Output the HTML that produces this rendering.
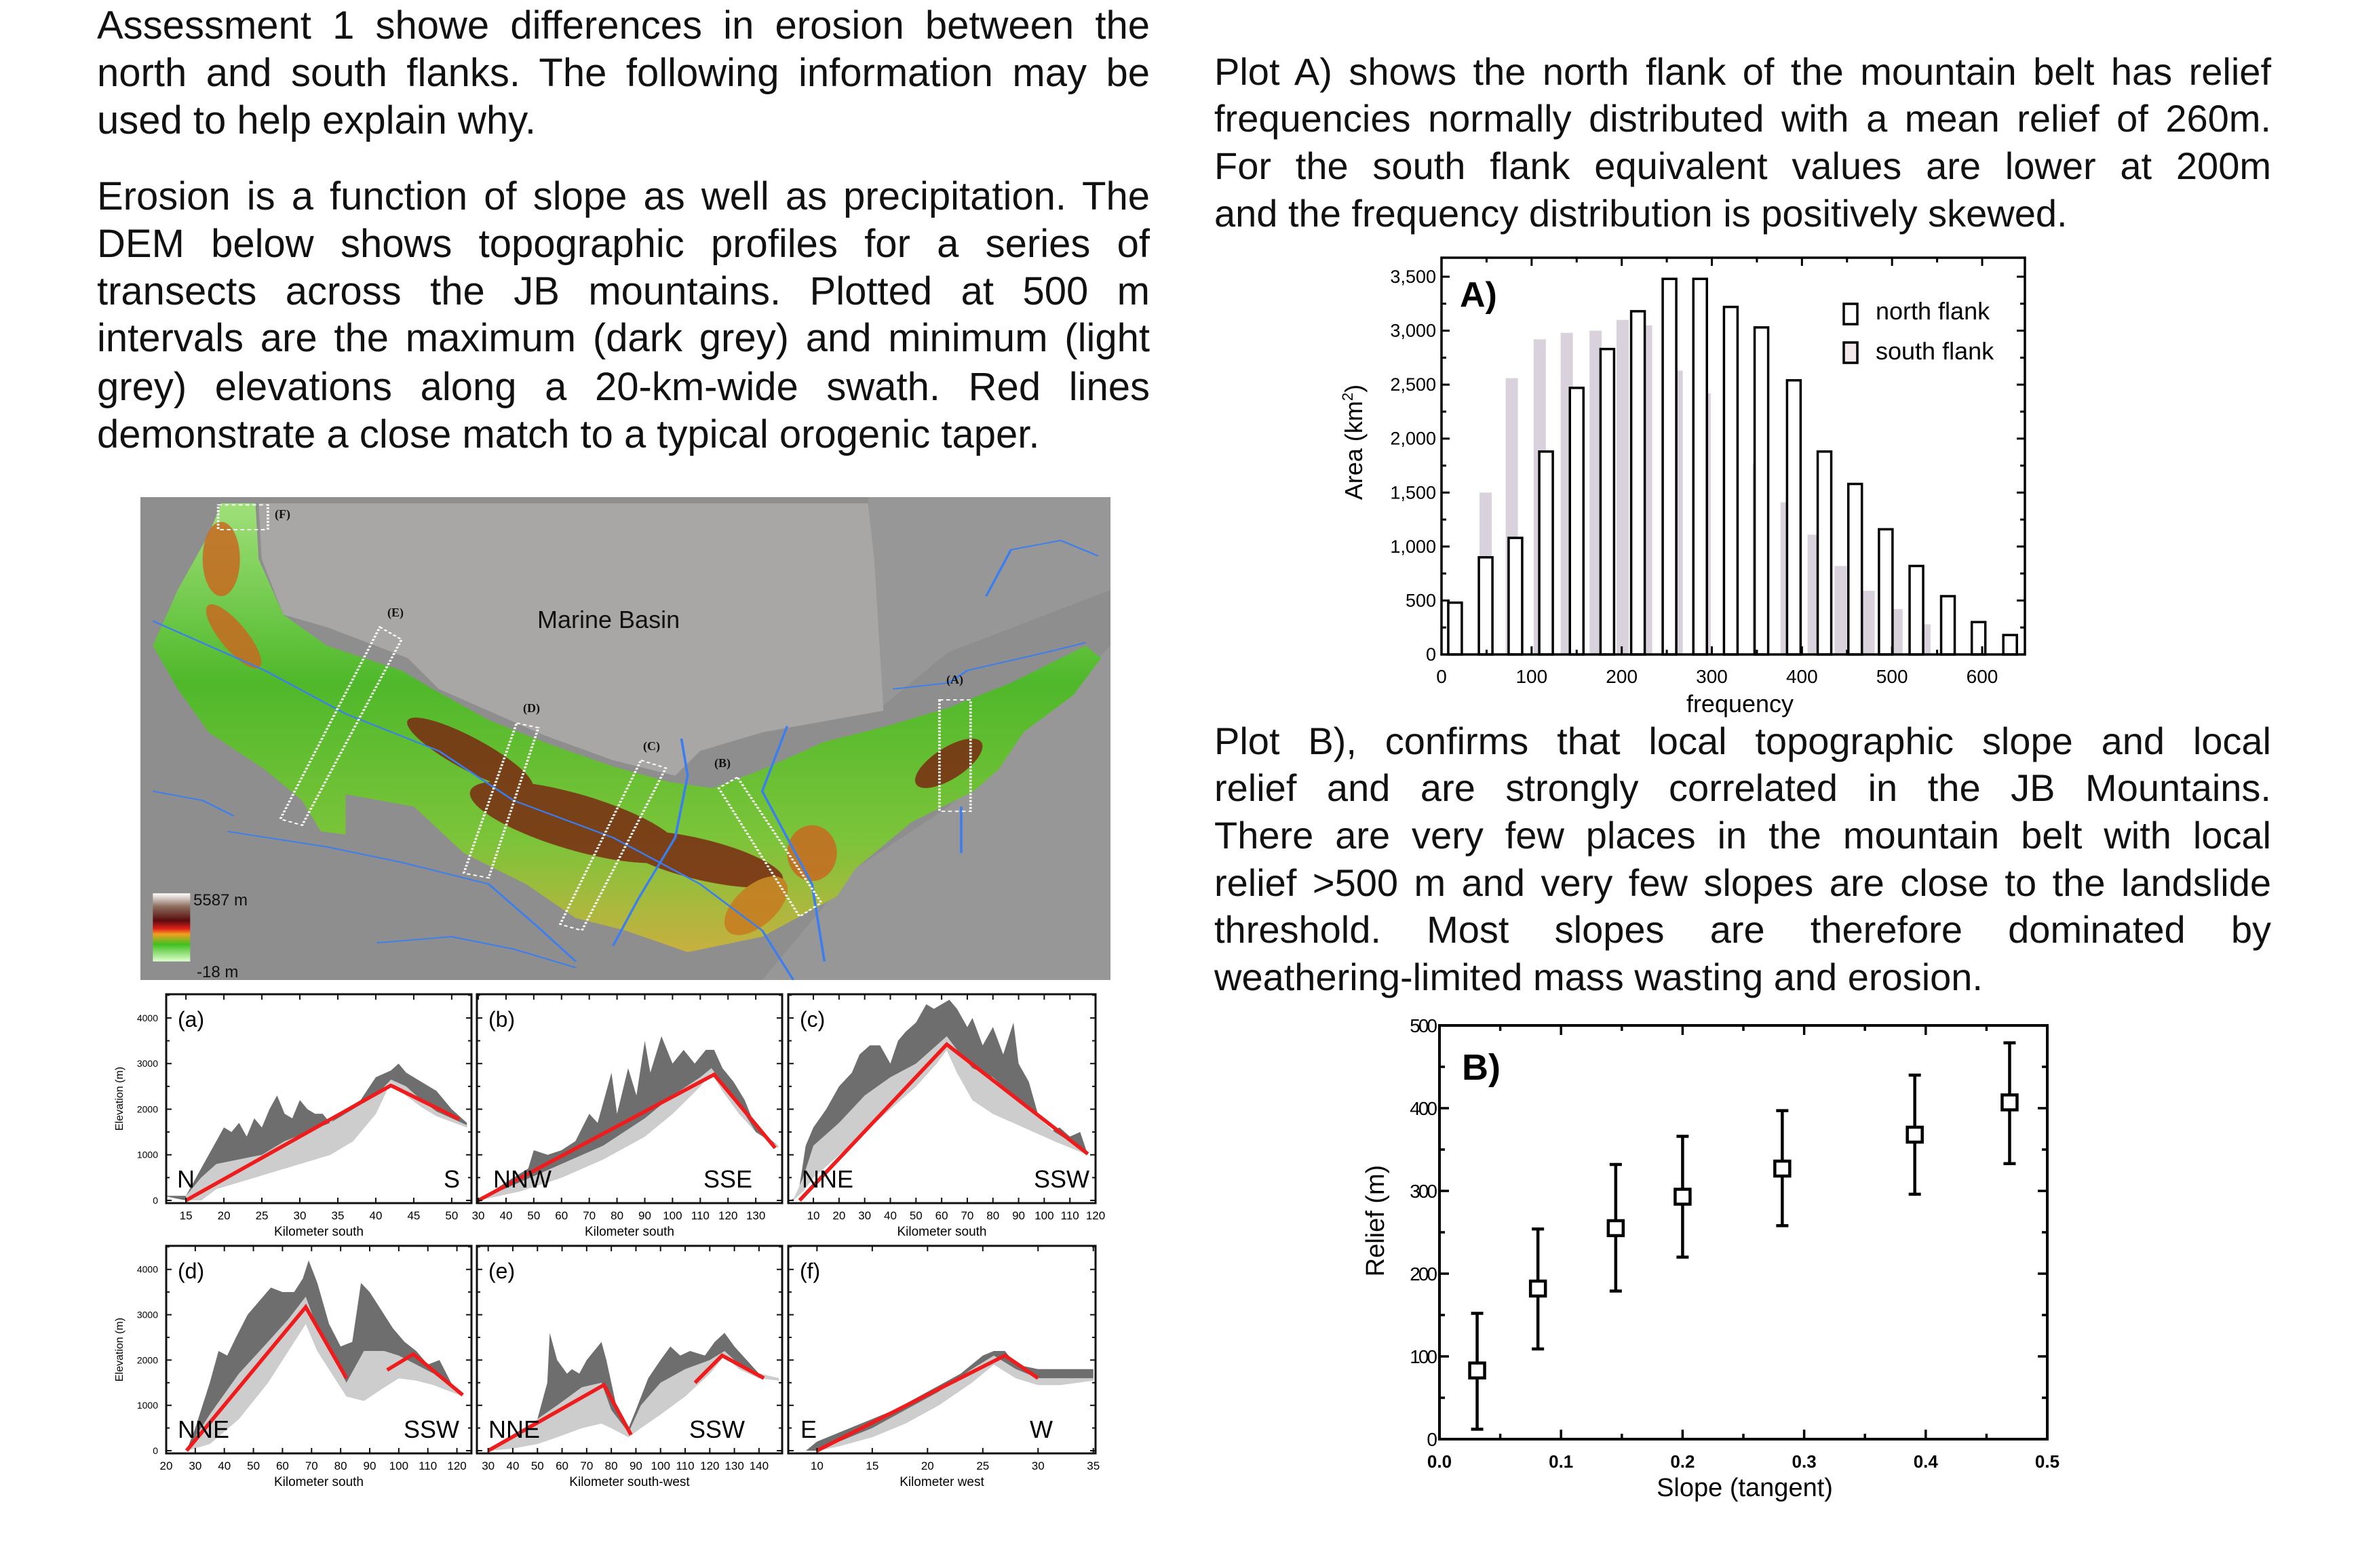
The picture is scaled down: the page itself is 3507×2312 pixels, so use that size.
<!DOCTYPE html>
<html><head><meta charset="utf-8">
<style>
body{margin:0;background:#fff;}
#page{position:relative;width:3507px;height:2312px;overflow:hidden;background:#fff;font-family:"Liberation Sans Narrow","Liberation Sans",sans-serif;color:#111;}
.ln{position:absolute;height:70px;line-height:70px;font-size:58px;white-space:nowrap;text-align:justify;text-align-last:justify;}
.ln.last{text-align:left;text-align-last:left;}
.lft{left:143px;width:1552px;}
.rgt{left:1790px;width:1558px;font-size:56px;}
.ov{position:absolute;white-space:nowrap;}
svg text{font-family:"Liberation Sans Narrow","Liberation Sans",sans-serif;}
</style></head>
<body>
<div id="page">
<div>
<div class="ln lft" style="top:3px">Assessment 1 showe differences in erosion between the</div>
<div class="ln lft" style="top:73px">north and south flanks. The following information may be</div>
<div class="ln lft last" style="top:143px">used to help explain why.</div>
</div>
<div>
<div class="ln lft" style="top:255px">Erosion is a function of slope as well as precipitation. The</div>
<div class="ln lft" style="top:325px">DEM below shows topographic profiles for a series of</div>
<div class="ln lft" style="top:395px">transects across the JB mountains. Plotted at 500 m</div>
<div class="ln lft" style="top:464px">intervals are the maximum (dark grey) and minimum (light</div>
<div class="ln lft" style="top:536px">grey) elevations along a 20-km-wide swath. Red lines</div>
<div class="ln lft last" style="top:606px">demonstrate a close match to a typical orogenic taper.</div>
</div>
<div>
<div class="ln rgt" style="top:71px">Plot A) shows the north flank of the mountain belt has relief</div>
<div class="ln rgt" style="top:140px">frequencies normally distributed with a mean relief of 260m.</div>
<div class="ln rgt" style="top:210px">For the south flank equivalent values are lower at 200m</div>
<div class="ln rgt last" style="top:280px">and the frequency distribution is positively skewed.</div>
</div>
<div>
<div class="ln rgt" style="top:1058px">Plot B), confirms that local topographic slope and local</div>
<div class="ln rgt" style="top:1127px">relief and are strongly correlated in the JB Mountains.</div>
<div class="ln rgt" style="top:1197px">There are very few places in the mountain belt with local</div>
<div class="ln rgt" style="top:1267px">relief &gt;500 m and very few slopes are close to the landslide</div>
<div class="ln rgt" style="top:1336px">threshold. Most slopes are therefore dominated by</div>
<div class="ln rgt last" style="top:1406px">weathering-limited mass wasting and erosion.</div>
</div>

<svg style="position:absolute;left:207px;top:733px" width="1430" height="712" viewBox="0 0 1560 1560" preserveAspectRatio="none">
<defs>
<linearGradient id="bandg" x1="0" y1="0" x2="0" y2="1"><stop offset="0" stop-color="#9fe07a"/><stop offset="0.4" stop-color="#4fb82a"/><stop offset="0.75" stop-color="#7cc43a"/><stop offset="1" stop-color="#c8b040"/></linearGradient>
<linearGradient id="cbar" x1="0" y1="0" x2="0" y2="1"><stop offset="0" stop-color="#ffffff"/><stop offset="0.2" stop-color="#8a6a5a"/><stop offset="0.4" stop-color="#5a0c0c"/><stop offset="0.52" stop-color="#e0201a"/><stop offset="0.6" stop-color="#f0a020"/><stop offset="0.75" stop-color="#40c020"/><stop offset="1" stop-color="#e0ffd0"/></linearGradient>
</defs>
<rect x="0" y="0" width="1560" height="1560" fill="#8e8e8e"/>
<polygon points="1170,0 1560,0 1560,1560 1000,1560 1150,1200 1300,1000 1420,760 1560,480 1560,300 1300,500 1190,680" fill="#979797"/>
<polygon points="190,20 1170,20 1180,200 1195,690 1000,760 900,820 860,900 760,850 650,770 480,620 430,520 300,420 230,380 195,200" fill="#a9a7a5"/>
<polygon points="130,20 185,20 190,200 230,380 300,480 420,560 470,620 560,720 660,800 760,870 850,920 920,940 1000,880 1100,790 1200,740 1300,680 1400,600 1520,480 1545,520 1500,640 1420,760 1380,880 1340,950 1240,1050 1150,1200 1120,1290 1000,1420 880,1470 780,1400 700,1360 620,1250 520,1150 440,1000 330,960 330,1090 290,1080 260,980 200,880 110,760 60,620 20,480 60,300 110,120" fill="url(#bandg)"/>
<g fill="#7a2a12" opacity="0.85">
<ellipse cx="130" cy="200" rx="30" ry="120" fill="#c86a20"/>
<ellipse cx="150" cy="450" rx="25" ry="110" transform="rotate(-20 150 450)" fill="#c86a20"/>
<ellipse cx="530" cy="830" rx="40" ry="150" transform="rotate(-40 530 830)"/>
<ellipse cx="700" cy="1050" rx="80" ry="200" transform="rotate(-55 700 1050)"/>
<ellipse cx="900" cy="1170" rx="60" ry="150" transform="rotate(-60 900 1170)"/>
<ellipse cx="1300" cy="860" rx="35" ry="90" transform="rotate(30 1300 860)"/>
<ellipse cx="990" cy="1320" rx="40" ry="100" fill="#c87a20" transform="rotate(20 990 1320)"/>
<ellipse cx="1080" cy="1150" rx="40" ry="90" fill="#c86a20"/>
</g>
<g fill="none" stroke="#3a7ef0" stroke-width="4">
<polyline points="20,400 200,560 330,700 480,820 600,980 760,1100 900,1250 1000,1400 1050,1560"/>
<polyline points="1360,320 1400,170 1480,140 1540,190"/>
<polyline points="1210,620 1300,600 1330,560 1460,500 1520,470"/>
<polyline points="140,1080 300,1130 420,1180 560,1250 640,1390 700,1500"/>
<polyline points="380,1440 500,1420 600,1460 700,1520"/>
<polyline points="1320,1000 1320,1150"/>
<polyline points="870,780 880,900 860,1100 800,1300 760,1450"/>
<polyline points="1040,740 1000,950 1080,1250 1100,1500"/>
<polyline points="20,950 100,980 150,1030"/>
</g>
<g fill="none" stroke="#fff" stroke-width="4" stroke-dasharray="6 5">
<rect x="125" y="25" width="80" height="80"/>
<polygon points="385,420 420,460 260,1060 225,1040"/>
<polygon points="605,730 640,745 560,1230 520,1215"/>
<polygon points="805,850 845,875 710,1400 675,1380"/>
<polygon points="960,905 930,940 1060,1355 1095,1310"/>
<rect x="1285" y="655" width="50" height="360"/>
</g>
<rect x="20" y="1280" width="60" height="220" fill="url(#cbar)"/>
</svg>
<div class="ov" style="left:792px;top:893px;font-size:36px;">Marine Basin</div>
<div class="ov" style="left:405px;top:748px;font-size:18px;font-family:'Liberation Serif',serif;font-weight:bold">(F)</div>
<div class="ov" style="left:571px;top:893px;font-size:18px;font-family:'Liberation Serif',serif;font-weight:bold">(E)</div>
<div class="ov" style="left:771px;top:1034px;font-size:18px;font-family:'Liberation Serif',serif;font-weight:bold">(D)</div>
<div class="ov" style="left:948px;top:1090px;font-size:18px;font-family:'Liberation Serif',serif;font-weight:bold">(C)</div>
<div class="ov" style="left:1053px;top:1115px;font-size:18px;font-family:'Liberation Serif',serif;font-weight:bold">(B)</div>
<div class="ov" style="left:1395px;top:992px;font-size:18px;font-family:'Liberation Serif',serif;font-weight:bold">(A)</div>
<div class="ov" style="left:285px;top:1314px;font-size:24px;">5587 m</div>
<div class="ov" style="left:290px;top:1420px;font-size:24px;">-18 m</div>

<svg id="charts" style="position:absolute;left:0;top:0" width="3507" height="2312"></svg>
</div>
<script>
// ---------- Histogram A data ----------
const histNorthX=[15,49,82,116,150,184,218,253,287,321,355,391,425,459,493,527,562,596,631];
const histNorthArea=[480,900,1080,1880,2470,2830,3180,3480,3480,3220,3030,2540,1880,1580,1160,820,540,300,180];
const histSouthX=[14,49,78,109,139,171,201,227,261,292,322,352,383,413,443,474,505,536,563];
const histSouthArea=[380,1500,2560,2920,2980,3000,3100,3050,2630,2420,2150,1770,1410,1110,820,590,420,280,160];
const histYTicks=[0,500,1000,1500,2000,2500,3000,3500];
const histYTickLabels=["0","500","1,000","1,500","2,000","2,500","3,000","3,500"];
const histXTicks=[0,100,200,300,400,500,600];
// ---------- Scatter B data ----------
const slopeX=[0.031,0.081,0.145,0.200,0.282,0.391,0.469];
const reliefMean=[83,182,255,293,327,368,407];
const reliefUpper=[152,254,332,366,397,440,479];
const reliefLower=[12,109,179,220,258,296,333];
const scatXTicks=[0,0.1,0.2,0.3,0.4,0.5];
const scatXTickLabels=["0.0","0.1","0.2","0.3","0.4","0.5"];
const scatYTicks=[0,100,200,300,400,500];
// ---------- Profile data (km, m) ----------
const profA_km=[12,15,17,19,20,21,22,23,24,25,26,27,28,29,30,31,32,33,34,36,38,40,42,43,44,46,48,50,52];
const profA_max=[100,100,700,1300,1600,1500,1700,1400,1800,1600,2000,2300,1900,1800,2200,2000,1900,1900,1700,2000,2200,2700,2850,3000,2800,2600,2400,2000,1700];
const profA_lowKm=[15,17,19,22,25,28,31,34,37,40,42,44,46,48,52];
const profA_mid=[100,500,800,900,1000,1300,1500,1700,2000,2300,2650,2500,2200,1950,1650];
const profA_low=[0,0,250,400,550,700,850,1000,1300,1900,2600,2300,2050,1850,1600];
const profA_red=[[15,0],[42,2520],[51,1780]];
const profB_km=[30,40,48,50,55,60,65,70,73,78,80,84,87,90,92,96,100,104,108,112,115,118,122,126,130,134,138];
const profB_max=[0,400,700,1100,1000,1100,1300,1900,1700,2800,1900,2900,2300,3500,2800,3600,3000,3300,3000,3300,3300,2900,2600,2200,1600,1400,1200];
const profB_lowKm=[30,45,60,75,90,100,110,114,118,124,130,138];
const profB_mid=[0,400,800,1200,1800,2300,2700,2900,2600,2100,1500,1200];
const profB_low=[0,200,500,900,1400,1900,2500,2800,2400,1900,1500,1150];
const profB_red=[[30,0],[115,2760],[137,1150]];
const profC_km=[1,4,7,10,15,20,25,28,32,36,40,43,46,50,54,57,60,63,66,70,72,76,80,84,88,90,94,98,102,106,110,114,117];
const profC_max=[0,100,1200,1600,2000,2500,2800,3200,3400,3400,3000,3500,3700,3900,4300,4200,4300,4400,4200,3800,4000,3400,3800,3200,3900,3000,2600,1800,1500,1600,1400,1500,1000];
const profC_lowKm=[2,6,10,20,30,40,50,58,62,66,72,80,88,96,104,117];
const profC_mid=[0,500,1200,1700,2300,2700,3000,3400,3600,3300,2900,2700,2300,1900,1500,1050];
const profC_low=[0,200,500,1000,1500,2000,2500,3000,3300,2800,2200,1900,1700,1500,1300,1000];
const profC_red=[[4.6,0],[62,3420],[117,1020]];
const profD_km=[20,27,30,35,38,41,44,48,52,56,60,64,67,69,72,76,80,84,87,90,94,98,102,106,110,114,118,122];
const profD_max=[0,0,500,1500,2200,2100,2500,3000,3300,3600,3500,3500,3800,4200,3700,2800,2300,2400,3700,3500,3100,2700,2400,2200,1900,2000,1500,1200];
const profD_lowKm=[27,35,45,55,62,68,72,78,82,88,95,100,106,112,118,122];
const profD_mid=[0,800,1700,2400,2900,3400,2700,2000,1500,2200,2200,2100,1900,1700,1400,1200];
const profD_low=[0,150,700,1500,2200,2800,2200,1600,1200,1100,1400,1600,1550,1450,1300,1200];
const profD_red1=[[27,0],[68,3170],[82,1600]];
const profD_red2=[[96,1780],[105,2130],[122,1230]];
const profE_km=[30,40,50,54,55,58,62,64,67,70,73,76,78,82,87,90,95,100,104,108,112,118,122,126,130,135,140,148];
const profE_max=[0,300,700,1500,2600,2000,1700,1800,1700,2000,2200,2400,2000,1000,500,900,1600,2000,2300,2100,2200,2100,2400,2600,2300,2000,1700,1600];
const profE_lowKm=[30,40,50,58,68,76,80,87,92,100,110,120,126,132,140,148];
const profE_mid=[0,300,700,1000,1400,1500,900,400,1000,1500,1800,2000,2200,1900,1700,1600];
const profE_low=[0,50,150,300,500,600,500,300,500,800,1200,1700,2100,1800,1600,1550];
const profE_red1=[[30,0],[77,1450],[88,350]];
const profE_red2=[[114,1500],[125,2100],[142,1600]];
const profF_km=[9,10,12,14,17,20,23,25,26,27,28,30,32,35];
const profF_max=[0,200,400,600,900,1300,1700,2100,2200,2200,1900,1800,1800,1800];
const profF_lowKm=[10,12,15,18,21,24,26,28,30,32,35];
const profF_mid=[0,200,500,900,1300,1800,2100,1800,1600,1600,1600];
const profF_low=[0,100,300,600,1000,1500,1900,1600,1450,1450,1550];
const profF_red=[[10,0],[27,2100],[30,1600]];

const NS="http://www.w3.org/2000/svg";
const svg=document.getElementById('charts');
function mk(tag,attrs,parent,txt){const e=document.createElementNS(NS,tag);for(const k in attrs)e.setAttribute(k,attrs[k]);if(txt!==undefined)e.textContent=txt;(parent||svg).appendChild(e);return e;}
function grp(name){const g=mk('g',{});


return g;}

// ===== Histogram A =====
(function(){
const L=2125,R=2985,T=380,B=965;
const hx=v=>L+v*(2922-2125)/600;
const hy=v=>B-v*(965-408)/3500;
const g=grp('histogram-a');
const sg=grp('south-flank-bars');g.appendChild(sg);
histSouthX.forEach((x,i)=>{const b=mk('rect',{x:hx(x)-9,y:hy(histSouthArea[i]),width:18,height:B-hy(histSouthArea[i]),fill:'#d9d1dc'},sg);

});
const ng=grp('north-flank-bars');g.appendChild(ng);
histNorthX.forEach((x,i)=>{const b=mk('rect',{x:hx(x)-10,y:hy(histNorthArea[i]),width:20,height:B-hy(histNorthArea[i]),fill:'#fff',stroke:'#000','stroke-width':3.5},ng);

});
const fr=mk('rect',{x:L,y:T,width:R-L,height:B-T,fill:'none',stroke:'#000','stroke-width':3.5},g);


const tk=grp('histogram-ticks');g.appendChild(tk);
for(let v=0;v<=3750;v+=250){const y=hy(v);if(y<T)break;const len=v%500===0?12:7;
mk('line',{x1:L,y1:y,x2:L+len,y2:y,stroke:'#000','stroke-width':3},tk);mk('line',{x1:R,y1:y,x2:R-len,y2:y,stroke:'#000','stroke-width':3},tk);}
for(let v=0;v<=650;v+=50){const x=hx(v);if(x>R)break;const len=v%100===0?12:7;
mk('line',{x1:x,y1:B,x2:x,y2:B-len,stroke:'#000','stroke-width':3},tk);mk('line',{x1:x,y1:T,x2:x,y2:T+len,stroke:'#000','stroke-width':3},tk);}
histYTicks.forEach((v,i)=>{const t=mk('text',{x:L-8,y:hy(v)+9,'text-anchor':'end','font-size':27},g,histYTickLabels[i]);

});
histXTicks.forEach(v=>{const t=mk('text',{x:hx(v),y:B+42,'text-anchor':'middle','font-size':28},g,String(v));

});
const yt=mk('text',{x:0,y:0,transform:'translate(2008,652) rotate(-90)','text-anchor':'middle','font-size':36,'font-family':'Liberation Sans'},g);
yt.innerHTML='Area (km<tspan font-size="22" dy="-14">2</tspan><tspan dy="14">)</tspan>';


const xt=mk('text',{x:2565,y:1050,'text-anchor':'middle','font-size':36},g,'frequency');


const pl=mk('text',{x:2152,y:452,'font-size':52,'font-weight':'bold','font-family':'Liberation Sans'},g,'A)');


const lg=grp('legend');g.appendChild(lg);
const s1=mk('rect',{x:2718,y:448,width:20,height:30,fill:'#fff',stroke:'#000','stroke-width':3.5},lg);


const t1=mk('text',{x:2765,y:471,'font-size':36},lg,'north flank');


const s2=mk('rect',{x:2718,y:505,width:20,height:30,fill:'#f3e8ea',stroke:'#000','stroke-width':3.5},lg);


const t2=mk('text',{x:2765,y:530,'font-size':36},lg,'south flank');


})();

// ===== Scatter B =====
(function(){
const L=2122,R=3018,T=1512,B=2122;
const sx=v=>L+v/0.5*(R-L);
const sy=v=>B-v/500*(B-T);
const g=grp('scatter-b');
const fr=mk('rect',{x:L,y:T,width:R-L,height:B-T,fill:'none',stroke:'#000','stroke-width':4},g);


const tk=grp('scatter-ticks');g.appendChild(tk);
for(let i=0;i<=10;i++){const v=i*0.05,x=sx(v),len=i%2===0?14:8;
mk('line',{x1:x,y1:B,x2:x,y2:B-len,stroke:'#000','stroke-width':3.5},tk);mk('line',{x1:x,y1:T,x2:x,y2:T+len,stroke:'#000','stroke-width':3.5},tk);}
for(let i=0;i<=10;i++){const v=i*50,y=sy(v),len=i%2===0?14:8;
mk('line',{x1:L,y1:y,x2:L+len,y2:y,stroke:'#000','stroke-width':3.5},tk);mk('line',{x1:R,y1:y,x2:R-len,y2:y,stroke:'#000','stroke-width':3.5},tk);}
scatYTicks.forEach(v=>{const t=mk('text',{x:L-6,y:sy(v)+10,'text-anchor':'end','font-size':28,'letter-spacing':-3},g,String(v));

});
scatXTicks.forEach((v,i)=>{const t=mk('text',{x:sx(v),y:B+42,'text-anchor':'middle','font-size':26,'font-weight':'bold'},g,scatXTickLabels[i]);

});
const pts=grp('data-points');g.appendChild(pts);
slopeX.forEach((x,i)=>{const px=sx(x);
const eb=mk('path',{d:`M${px},${sy(reliefUpper[i])}V${sy(reliefLower[i])}M${px-9},${sy(reliefUpper[i])}H${px+9}M${px-9},${sy(reliefLower[i])}H${px+9}`,stroke:'#000','stroke-width':4.5,fill:'none'},pts);


const m=mk('rect',{x:px-11,y:sy(reliefMean[i])-11,width:22,height:22,fill:'#fff',stroke:'#000','stroke-width':4.5},pts);

});
const yt=mk('text',{x:0,y:0,transform:'translate(2040,1800) rotate(-90)','text-anchor':'middle','font-size':38,'font-family':'Liberation Sans'},g,'Relief (m)');


const xt=mk('text',{x:2572,y:2206,'text-anchor':'middle','font-size':38},g,'Slope (tangent)');


const pl=mk('text',{x:2155,y:1592,'font-size':54,'font-weight':'bold','font-family':'Liberation Sans'},g,'B)');


})();

// ===== Profiles =====
const panels=[
{id:'a',box:[245,1466,695,1774],dom:[12.4,52.6],ticks:[15,20,25,30,35,40,45,50],km:profA_km,max:profA_max,lkm:profA_lowKm,mid:profA_mid,low:profA_low,reds:[profA_red],dirs:['N','S'],dx:[274,666],title:'Kilometer south',ylab:true},
{id:'b',box:[703,1466,1153,1774],dom:[29.5,139.5],ticks:[30,40,50,60,70,80,90,100,110,120,130],km:profB_km,max:profB_max,lkm:profB_lowKm,mid:profB_mid,low:profB_low,reds:[profB_red],dirs:['NNW','SSE'],dx:[770,1073],title:'Kilometer south'},
{id:'c',box:[1162,1466,1615,1774],dom:[0.2,120],ticks:[10,20,30,40,50,60,70,80,90,100,110,120],km:profC_km,max:profC_max,lkm:profC_lowKm,mid:profC_mid,low:profC_low,reds:[profC_red],dirs:['NNE','SSW'],dx:[1220,1565],title:'Kilometer south'},
{id:'d',box:[245,1837,695,2143],dom:[20,125],ticks:[20,30,40,50,60,70,80,90,100,110,120],km:profD_km,max:profD_max,lkm:profD_lowKm,mid:profD_mid,low:profD_low,reds:[profD_red1,profD_red2],dirs:['NNE','SSW'],dx:[300,636],title:'Kilometer south',ylab:true},
{id:'e',box:[703,1837,1153,2143],dom:[25.4,149.4],ticks:[30,40,50,60,70,80,90,100,110,120,130,140],km:profE_km,max:profE_max,lkm:profE_lowKm,mid:profE_mid,low:profE_low,reds:[profE_red1,profE_red2],dirs:['NNE','SSW'],dx:[758,1057],title:'Kilometer south-west'},
{id:'f',box:[1162,1837,1615,2143],dom:[7.4,35.2],ticks:[10,15,20,25,30,35],km:profF_km,max:profF_max,lkm:profF_lowKm,mid:profF_mid,low:profF_low,reds:[profF_red],dirs:['E','W'],dx:[1192,1535],title:'Kilometer west'}
];
const elevTicks=[0,1000,2000,3000,4000];
panels.forEach(p=>{
const [L,T,R,B]=p.box;
const px=v=>L+(v-p.dom[0])/(p.dom[1]-p.dom[0])*(R-L);
const py=v=>B-4-v/4520*(B-T-4);
const g=grp('profile-panel-'+p.id);
const cid='clip'+p.id;
const cp=mk('clipPath',{id:cid},g);mk('rect',{x:L,y:T,width:R-L,height:B-T},cp);
const inner=mk('g',{'clip-path':`url(#${cid})`},g);
let d='M'+p.km.map((k,i)=>px(k)+','+py(p.max[i])).join('L');
for(let i=p.lkm.length-1;i>=0;i--)d+='L'+px(p.lkm[i])+','+py(p.low[i]);
const dk=mk('path',{d:d+'Z',fill:'#6e6e6e'},inner);


let d2='M'+p.lkm.map((k,i)=>px(k)+','+py(p.mid[i])).join('L');
for(let i=p.lkm.length-1;i>=0;i--)d2+='L'+px(p.lkm[i])+','+py(p.low[i]);
const lt=mk('path',{d:d2+'Z',fill:'#cdcdcd'},inner);


p.reds.forEach(r=>{const rl=mk('polyline',{points:r.map(q=>px(q[0])+','+py(q[1])).join(' '),fill:'none',stroke:'#ee1c1c','stroke-width':5.5},inner);

});
const fr=mk('rect',{x:L,y:T,width:R-L,height:B-T,fill:'none',stroke:'#111','stroke-width':3},g);


p.ticks.forEach(v=>{const x=px(v);mk('line',{x1:x,y1:B,x2:x,y2:B-8,stroke:'#111','stroke-width':2},g);mk('line',{x1:x,y1:T,x2:x,y2:T+8,stroke:'#111','stroke-width':2},g);
const t=mk('text',{x:x,y:B+24,'text-anchor':'middle','font-size':17},g,String(v));

});
for(let v=0;v<=4500;v+=500){const y=py(v),len=v%1000===0?8:5;mk('line',{x1:L,y1:y,x2:L+len,y2:y,stroke:'#111','stroke-width':2},g);mk('line',{x1:R,y1:y,x2:R-len,y2:y,stroke:'#111','stroke-width':2},g);}
if(p.ylab){elevTicks.forEach(v=>{const t=mk('text',{x:L-12,y:py(v)+5,'text-anchor':'end','font-size':14},g,String(v));

});
const yt=mk('text',{x:0,y:0,transform:`translate(181,${(T+B)/2}) rotate(-90)`,'text-anchor':'middle','font-size':16,'font-family':'Liberation Sans'},g,'Elevation (m)');

}
const xt=mk('text',{x:(L+R)/2,y:B+48,'text-anchor':'middle','font-size':19},g,p.title);


const pl=mk('text',{x:L+17,y:T+48,'font-size':32},g,'('+p.id+')');


const dl=mk('text',{x:p.dx[0],y:B-23,'text-anchor':'middle','font-size':36},g,p.dirs[0]);


const dr=mk('text',{x:p.dx[1],y:B-23,'text-anchor':'middle','font-size':36},g,p.dirs[1]);


});
</script>
</body></html>
